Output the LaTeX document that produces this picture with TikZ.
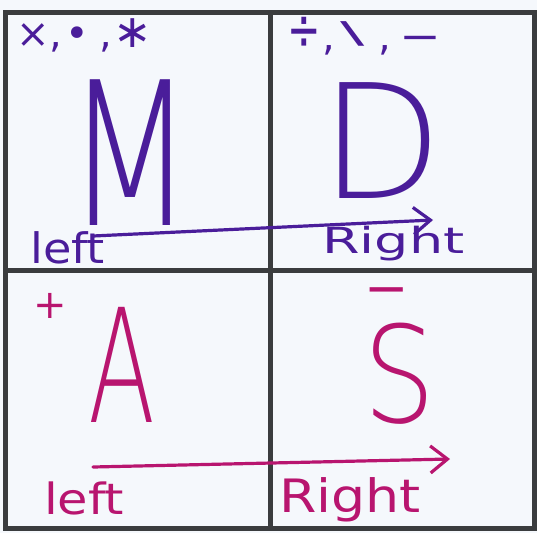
\documentclass[tikz,border=0pt]{standalone}
\usepackage{fontspec}
\setmainfont{DejaVu Sans}
\newfontfamily\thinfont{DejaVuSans-ExtraLight.ttf}
\usetikzlibrary{arrows.meta}
\definecolor{penpurple}{HTML}{4A1D9A}
\definecolor{penmagenta}{HTML}{B8156F}
\definecolor{frame}{HTML}{3A3C3E}
\definecolor{paper}{HTML}{F5F8FC}
\tikzset{
  gridline/.style={draw=frame, line width=5pt},
  penarrow/.style={line width=3.2pt, line cap=round, -{Straight Barb[length=17pt,width=27pt,line width=3.2pt]}},
  bigletter/.style={inner sep=0pt, anchor=base},
  label/.style={inner sep=0pt, anchor=base west},
}
\begin{document}
\begin{tikzpicture}[x=1pt,y=-1pt]
\fill[paper] (0,0) rectangle (537,533);
\useasboundingbox (0,0) rectangle (537,533);
% frame
\draw[gridline] (5,12) rectangle (534,528);
\draw[gridline] (270.5,12) -- (270.5,528);
\draw[gridline] (5,270) -- (534,270);
% top-left: M
\node[label, text=penpurple] (mulsym) at (16,47) {\fontsize{40}{40}\selectfont ×,\hspace{3pt}•\hspace{10pt},\hspace{2pt}{\fontsize{46}{46}\selectfont ∗}};
\node[bigletter, text=penpurple] (M) at (130,225) {\fontsize{200}{200}\selectfont\thinfont\scalebox{0.74}[1]{M}};
\node[label, text=penpurple] (left1) at (30,263) {\fontsize{42}{42}\selectfont\scalebox{1.1}[1]{left}};
% top-right: D
\node[label, text=penpurple] (divsym) at (287,50) {\fontsize{40}{40}\selectfont \scalebox{1}[1.5]{÷}\hspace{2pt},\hspace{5pt}\raisebox{7pt}{\scalebox{1.8}[0.75]{\textbackslash}}\hspace{14pt},\hspace{8pt}\scalebox{1.25}[1]{−}};
\node[bigletter, text=penpurple] (D) at (382,198) {\fontsize{159}{159}\selectfont\thinfont D};
\node[label, text=penpurple] (right1) at (322,253) {\fontsize{36}{36}\selectfont\scalebox{1.5}[1]{Right}};
\coordinate (a1s) at (93,236);
\coordinate (a1e) at (433,220);
\draw[penarrow, penpurple] (a1s) -- (a1e);
% bottom-left: A
\node[bigletter, text=penmagenta] (plus) at (50,318) {\fontsize{40}{40}\selectfont +};
\node[bigletter, text=penmagenta] (A) at (122,422) {\fontsize{158}{158}\selectfont\thinfont\scalebox{0.62}[1]{A}};
\node[label, text=penmagenta] (left2) at (44,514) {\fontsize{43}{43}\selectfont\scalebox{1.15}[1]{left}};
% bottom-right: S
\node[bigletter, text=penmagenta] (minus) at (387,306) {\fontsize{53}{53}\selectfont −};
\node[bigletter, text=penmagenta] (S) at (400,422) {\fontsize{134}{134}\selectfont\thinfont\scalebox{0.85}[1]{S}};
\node[label, text=penmagenta] (right2) at (279,512) {\fontsize{46}{46}\selectfont\scalebox{1.17}[1]{Right}};
\coordinate (a2s) at (93,467);
\coordinate (a2e) at (450,459);
\draw[penarrow, penmagenta] (a2s) -- (a2e);
\end{tikzpicture}
\end{document}
